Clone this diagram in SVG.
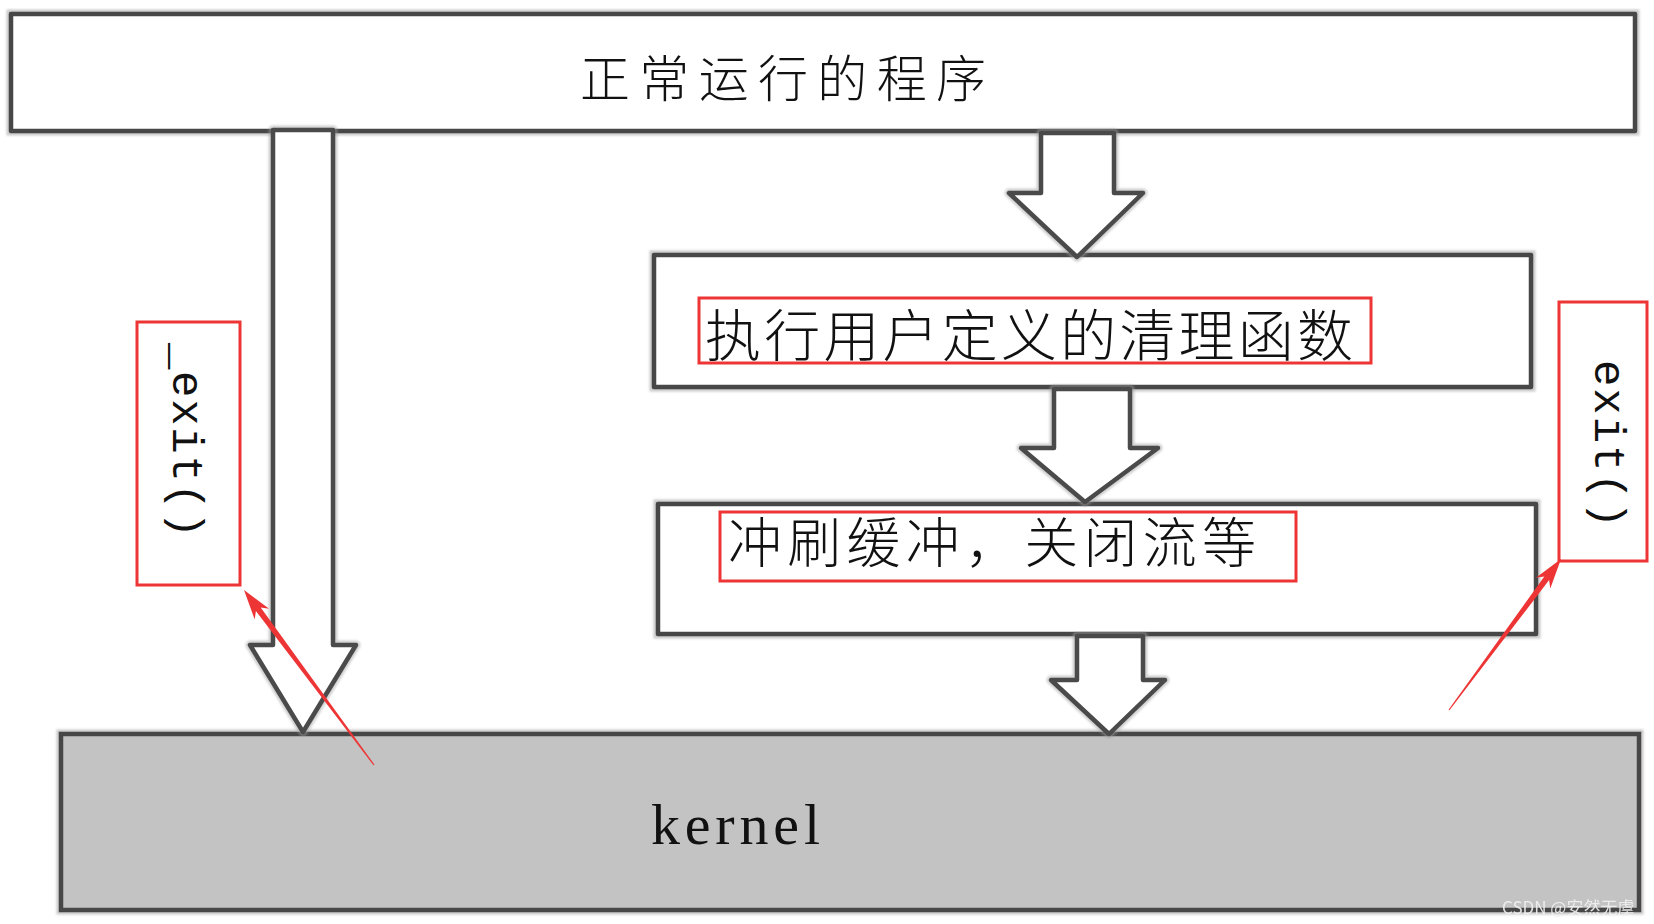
<svg xmlns="http://www.w3.org/2000/svg" width="1654" height="924" viewBox="0 0 1654 924">
<defs>
<filter id="soft" x="-5%" y="-5%" width="110%" height="110%"><feGaussianBlur stdDeviation="0.8"/></filter>
</defs>
<style>
.halo{fill:none;stroke:#9c9c9c;stroke-width:9;opacity:.55}
.box{fill:#fff;stroke:#474747;stroke-width:4.5;stroke-linejoin:round}
.kbox{fill:#c3c3c3;stroke:#474747;stroke-width:4.5}
.barrow{fill:#fff;stroke:#4a4a4a;stroke-width:4.5;stroke-linejoin:round}
.bhalo{fill:none;stroke:#a0a0a0;stroke-width:9;opacity:.5;stroke-linejoin:round}
.redbox{fill:none;stroke:#ee3535;stroke-width:3}
.red{fill:#ee3535}
.cjk{font-family:"Noto Sans CJK SC","Noto Sans",sans-serif;font-weight:300;fill:#111}
.mono{font-family:"Liberation Mono","DejaVu Sans Mono",monospace;fill:#111}
.serif{font-family:"Liberation Serif","DejaVu Serif",serif;fill:#111}
</style>
<rect width="1654" height="924" fill="#fff"/>

<g id="n-program">
<rect class="halo" x="11" y="14" width="1624" height="117" filter="url(#soft)"/>
<rect class="box" x="11" y="14" width="1624" height="117"/>
<text class="cjk" x="580" y="97" font-size="50" textLength="406" lengthAdjust="spacing">正常运行的程序</text>
</g>

<g id="n-cleanup">
<rect class="halo" x="654" y="255" width="877" height="132" filter="url(#soft)"/>
<rect class="box" x="654" y="255" width="877" height="132"/>
<rect class="redbox" x="699" y="298" width="672" height="65"/>
<text class="cjk" x="705" y="356" font-size="56" textLength="648" lengthAdjust="spacing">执行用户定义的清理函数</text>
</g>

<g id="n-flush">
<rect class="halo" x="658" y="504" width="878" height="130" filter="url(#soft)"/>
<rect class="box" x="658" y="504" width="878" height="130"/>
<rect class="redbox" x="720" y="512" width="576" height="69"/>
<text class="cjk" x="728" y="563" font-size="54" textLength="528" lengthAdjust="spacing">冲刷缓冲，关闭流等</text>
</g>

<g id="n-kernel">
<rect class="halo" x="61" y="734" width="1578" height="176" filter="url(#soft)"/>
<rect class="kbox" x="61" y="734" width="1578" height="176"/>
<text class="serif" x="651" y="844" font-size="58" textLength="169" lengthAdjust="spacing">kernel</text>
</g>

<g id="n-_exit">
<rect class="redbox" x="137" y="322" width="103" height="263"/>
<text class="mono" transform="translate(173,343) rotate(90)" font-size="44" textLength="195" lengthAdjust="spacing">_exit()</text>
</g>

<g id="n-exit">
<rect class="redbox" x="1559" y="302" width="88" height="259"/>
<text class="mono" transform="translate(1595,360) rotate(90)" font-size="44" textLength="168" lengthAdjust="spacing">exit()</text>
</g>

<g id="connectors">
<polygon class="bhalo" points="273,130 333,130 333,645 356,645 303,732 250,645 273,645" filter="url(#soft)"/>
<polygon class="barrow" points="273,130 333,130 333,645 356,645 303,732 250,645 273,645"/>
<polygon class="bhalo" points="1041,133 1114,133 1114,193 1143,193 1077,257 1009,193 1041,193" filter="url(#soft)"/>
<polygon class="barrow" points="1041,133 1114,133 1114,193 1143,193 1077,257 1009,193 1041,193"/>
<polygon class="bhalo" points="1054,389 1130,389 1130,448 1158,448 1085,502 1021,448 1054,448" filter="url(#soft)"/>
<polygon class="barrow" points="1054,389 1130,389 1130,448 1158,448 1085,502 1021,448 1054,448"/>
<polygon class="bhalo" points="1077,636 1143,636 1143,680 1165,680 1109,734 1051,680 1077,680" filter="url(#soft)"/>
<polygon class="barrow" points="1077,636 1143,636 1143,680 1165,680 1109,734 1051,680 1077,680"/>
<polygon class="red" points="374.48,764.64 260.7,607.5 269.1,608.7 244,590 254.7,619.5 255.9,611.1 373.52,765.36"/>
<polygon class="red" points="1449.48,710.36 1549.1,580.1 1550.3,588.5 1561,559 1535.9,577.7 1544.3,576.5 1448.52,709.64"/>
</g>

<text x="1502" y="914" font-family="'Noto Sans CJK SC','Noto Sans',sans-serif" font-size="17" fill="#f2f2f2" opacity="0.9">CSDN @安然无虞</text>
</svg>
